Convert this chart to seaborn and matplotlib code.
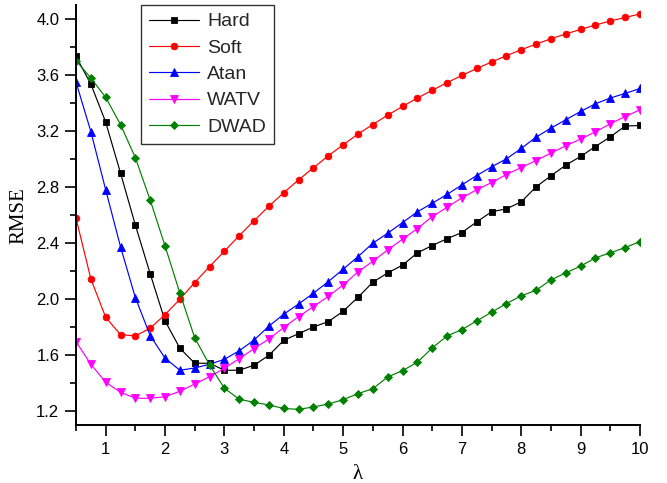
import numpy as np
import pandas as pd
import seaborn as sns
import matplotlib
matplotlib.use("Agg")
import matplotlib.pyplot as plt
from matplotlib.ticker import MultipleLocator

# ---- data ----
lam = [0.5, 0.75, 1.0, 1.25, 1.5, 1.75, 2.0, 2.25, 2.5, 2.75, 3.0, 3.25, 3.5, 3.75,
       4.0, 4.25, 4.5, 4.75, 5.0, 5.25, 5.5, 5.75, 6.0, 6.25, 6.5, 6.75, 7.0, 7.25,
       7.5, 7.75, 8.0, 8.25, 8.5, 8.75, 9.0, 9.25, 9.5, 9.75, 10.0]

hard = [3.733, 3.536, 3.264, 2.900, 2.529, 2.181, 1.845, 1.650, 1.543, 1.543, 1.493, 1.493, 1.529, 1.600,
        1.707, 1.754, 1.802, 1.840, 1.914, 2.014, 2.121, 2.188, 2.243, 2.331, 2.383, 2.432, 2.476, 2.552,
        2.624, 2.645, 2.695, 2.802, 2.881, 2.957, 3.019, 3.090, 3.159, 3.236, 3.240]
soft = [2.579, 2.145, 1.871, 1.747, 1.738, 1.793, 1.890, 2.000, 2.119, 2.233, 2.343, 2.454, 2.561, 2.664,
        2.761, 2.852, 2.938, 3.024, 3.102, 3.179, 3.247, 3.314, 3.376, 3.436, 3.491, 3.546, 3.597, 3.647,
        3.693, 3.738, 3.781, 3.821, 3.859, 3.893, 3.926, 3.957, 3.986, 4.011, 4.036]
atan = [3.550, 3.197, 2.781, 2.374, 2.011, 1.740, 1.579, 1.493, 1.509, 1.536, 1.571, 1.632, 1.709, 1.808,
        1.893, 1.966, 2.043, 2.126, 2.214, 2.304, 2.400, 2.471, 2.547, 2.624, 2.685, 2.748, 2.816, 2.883,
        2.945, 3.002, 3.076, 3.157, 3.221, 3.281, 3.340, 3.395, 3.436, 3.469, 3.504]
watv = [1.697, 1.536, 1.407, 1.336, 1.293, 1.293, 1.304, 1.343, 1.395, 1.447, 1.507, 1.576, 1.647, 1.717,
        1.798, 1.876, 1.947, 2.021, 2.102, 2.195, 2.271, 2.352, 2.429, 2.504, 2.590, 2.656, 2.724, 2.781,
        2.833, 2.890, 2.940, 2.990, 3.043, 3.095, 3.143, 3.195, 3.252, 3.304, 3.352]
dwad = [3.702, 3.579, 3.440, 3.247, 3.009, 2.707, 2.380, 2.043, 1.724, 1.531, 1.364, 1.286, 1.264, 1.245,
        1.220, 1.214, 1.231, 1.252, 1.283, 1.326, 1.361, 1.445, 1.490, 1.550, 1.652, 1.738, 1.783, 1.845,
        1.907, 1.969, 2.024, 2.064, 2.138, 2.188, 2.236, 2.295, 2.331, 2.369, 2.411]

series_names = ["Hard", "Soft", "Atan", "WATV", "DWAD"]
series_values = [hard, soft, atan, watv, dwad]
x_ticks = [1, 2, 3, 4, 5, 6, 7, 8, 9, 10]
y_ticks = [1.2, 1.6, 2.0, 2.4, 2.8, 3.2, 3.6, 4.0]
x_label = "λ"
y_label = "RMSE"

df = pd.DataFrame({
    "lam": np.tile(lam, len(series_names)),
    "rmse": np.concatenate(series_values),
    "method": np.repeat(series_names, len(lam)),
})

# ---- styling ----
sns.set_theme(style="ticks")
plt.rcParams["font.family"] = ["Liberation Sans", "DejaVu Sans"]

colors = {"Hard": "#000000", "Soft": "#FF0000", "Atan": "#0000FF",
          "WATV": "#FF00FF", "DWAD": "#008000"}
markers = {"Hard": "s", "Soft": "o", "Atan": "^", "WATV": "v", "DWAD": "D"}
msizes = {"Hard": 4.0, "Soft": 4.8, "Atan": 5.6, "WATV": 5.6, "DWAD": 4.2}

fig = plt.figure(figsize=(6.67, 4.83), dpi=100)
ax = fig.add_axes([76 / 667, 1 - 425.3 / 483, (640 - 76) / 667, (425.3 - 5) / 483])

for name in series_names:
    sub = df[df["method"] == name]
    sns.lineplot(data=sub, x="lam", y="rmse", ax=ax, color=colors[name],
                 marker=markers[name], markersize=msizes[name],
                 markeredgecolor=colors[name], markeredgewidth=0.6,
                 linewidth=0.85, label=name, estimator=None, sort=False)

ax.set_xlim(0.5, 10)
ax.set_ylim(1.1, 4.1)
ax.set_xticks(x_ticks)
ax.set_yticks(y_ticks)
ax.set_yticklabels([f"{v:.1f}" for v in y_ticks])
ax.xaxis.set_minor_locator(MultipleLocator(0.5))
ax.yaxis.set_minor_locator(MultipleLocator(0.2))
ax.tick_params(axis="both", which="major", direction="out", length=8, width=1.2,
               labelsize=12, pad=4, color="black", labelcolor="black")
ax.tick_params(axis="both", which="minor", direction="out", length=4.5, width=1.2,
               color="black")

for side in ["top", "right"]:
    ax.spines[side].set_visible(False)
for side in ["left", "bottom"]:
    ax.spines[side].set_color("black")
    ax.spines[side].set_linewidth(1.4)

ax.set_xlabel(x_label, labelpad=6)
ax.set_ylabel(y_label, labelpad=6)
for lbl, size in [(ax.xaxis.label, 15), (ax.yaxis.label, 15)]:
    lbl.set_fontfamily(["Liberation Serif", "DejaVu Serif"])
    lbl.set_fontsize(size)
    lbl.set_color("black")

leg = ax.legend(loc="upper left", bbox_to_anchor=((141 - 76) / 564, 1.0),
                borderaxespad=0, fontsize=14, frameon=True, fancybox=False,
                framealpha=1, edgecolor="#333333", handlelength=2.6,
                labelspacing=0.45, handletextpad=0.4, borderpad=0.4)
leg.get_frame().set_linewidth(1.0)

fig.savefig("out.png", dpi=100)
